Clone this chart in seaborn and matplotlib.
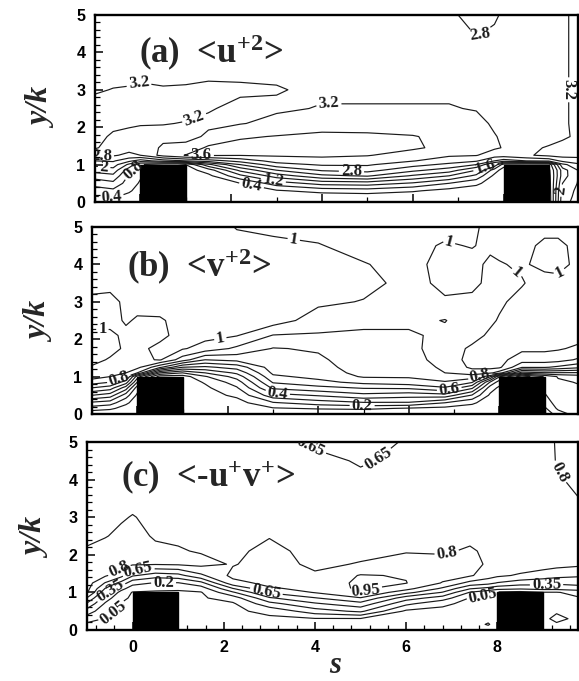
import numpy as np
import pandas as pd
import matplotlib
matplotlib.use("Agg")
import matplotlib.pyplot as plt
from matplotlib.patches import Rectangle
from matplotlib.ticker import MultipleLocator, NullFormatter
import seaborn as sns

# ---------------------------------------------------------------------------
# Grid on which the turbulence statistics are sampled
# (streamwise position s, wall-normal position y/k)
# ---------------------------------------------------------------------------
S_NODES = [-1.0, -0.6, -0.25, 0.0, 0.5, 1.0, 1.5, 2.2, 3.0, 4.0, 5.0, 6.0,
           6.8, 7.4, 7.8, 8.0, 8.5, 9.0, 9.3, 9.8]
Y_NODES = [0.0, 0.15, 0.3, 0.5, 0.7, 0.85, 1.0, 1.1, 1.25, 1.45, 1.75, 2.1,
           2.5, 3.0, 3.5, 4.0, 4.5, 5.0]

# roughness elements (square ribs of height k)
RIB_STARTS = [0.0, 8.0]
RIB_WIDTH = 1.0
RIB_HEIGHT = 1.0

# <u+2>: one list per s station, bottom to top
U2_COLUMNS = [
    [0.10, 0.40, 0.62, 0.95, 1.40, 1.75, 2.10, 2.40, 2.83, 3.25, 3.30, 3.32, 3.30, 3.17, 3.10, 3.06, 3.04, 3.02],
    [0.10, 0.45, 0.70, 1.10, 1.50, 1.85, 2.20, 2.45, 2.85, 3.00, 3.15, 3.28, 3.30, 3.21, 3.10, 3.06, 3.04, 3.02],
    [0.10, 0.30, 0.45, 0.60, 0.75, 0.95, 1.50, 2.10, 2.70, 2.95, 3.10, 3.25, 3.30, 3.22, 3.12, 3.06, 3.04, 3.02],
    [0.05, 0.15, 0.25, 0.35, 0.45, 0.60, 0.80, 1.80, 2.80, 3.00, 3.10, 3.22, 3.30, 3.25, 3.12, 3.06, 3.04, 3.02],
    [0.30, 0.30, 0.30, 0.30, 0.30, 0.30, 0.50, 2.20, 3.35, 3.25, 3.12, 3.21, 3.28, 3.22, 3.12, 3.06, 3.04, 3.02],
    [0.05, 0.08, 0.10, 0.12, 0.15, 0.20, 0.40, 2.40, 3.62, 3.30, 3.10, 3.19, 3.26, 3.23, 3.12, 3.06, 3.04, 3.02],
    [0.02, 0.05, 0.08, 0.15, 0.30, 0.60, 1.50, 2.60, 3.65, 3.68, 3.25, 3.15, 3.22, 3.26, 3.13, 3.06, 3.04, 3.02],
    [0.02, 0.05, 0.10, 0.40, 1.10, 1.70, 2.40, 2.95, 3.62, 3.75, 3.55, 3.18, 3.14, 3.24, 3.14, 3.06, 3.04, 3.02],
    [0.02, 0.10, 0.35, 1.00, 1.80, 2.40, 3.05, 3.35, 3.65, 3.80, 3.62, 3.30, 3.15, 3.22, 3.14, 3.06, 3.04, 3.02],
    [0.02, 0.15, 0.55, 1.35, 2.30, 2.85, 3.25, 3.50, 3.65, 3.80, 3.70, 3.40, 3.22, 3.14, 3.10, 3.06, 3.04, 3.02],
    [0.02, 0.20, 0.60, 1.40, 2.45, 2.95, 3.25, 3.42, 3.62, 3.75, 3.68, 3.40, 3.22, 3.14, 3.10, 3.06, 3.04, 3.02],
    [0.02, 0.15, 0.45, 1.15, 1.95, 2.50, 2.95, 3.22, 3.45, 3.65, 3.62, 3.40, 3.22, 3.14, 3.10, 3.06, 3.04, 3.02],
    [0.02, 0.10, 0.25, 0.80, 1.60, 2.20, 2.70, 3.00, 3.25, 3.50, 3.50, 3.38, 3.22, 3.14, 3.10, 3.06, 3.00, 2.85],
    [0.02, 0.05, 0.15, 0.50, 1.10, 1.60, 2.40, 2.85, 3.22, 3.38, 3.40, 3.30, 3.18, 3.12, 3.08, 3.00, 2.78, 2.70],
    [0.02, 0.05, 0.08, 0.15, 0.30, 0.60, 1.50, 2.40, 3.00, 3.25, 3.22, 3.15, 3.12, 3.10, 3.06, 3.00, 2.85, 2.75],
    [0.02, 0.03, 0.05, 0.08, 0.12, 0.20, 0.60, 2.20, 3.00, 3.18, 3.15, 3.12, 3.10, 3.08, 3.05, 3.00, 2.90, 2.85],
    [0.20, 0.20, 0.20, 0.20, 0.20, 0.20, 0.50, 2.40, 3.15, 3.15, 3.10, 3.10, 3.08, 3.06, 3.05, 3.04, 3.00, 2.95],
    [0.10, 0.12, 0.15, 0.20, 0.25, 0.30, 0.50, 2.50, 3.30, 3.22, 3.12, 3.10, 3.08, 3.08, 3.06, 3.05, 3.02, 3.00],
    [2.30, 2.25, 2.20, 2.00, 1.80, 1.80, 2.30, 2.90, 3.35, 3.30, 3.15, 3.17, 3.17, 3.17, 3.17, 3.17, 3.17, 3.17],
    [2.60, 2.60, 2.60, 2.62, 2.65, 2.70, 2.80, 3.00, 3.35, 3.38, 3.30, 3.28, 3.28, 3.28, 3.28, 3.28, 3.28, 3.28],
]

# <v+2>
V2_COLUMNS = [
    [0.02, 0.15, 0.28, 0.50, 0.70, 0.85, 0.94, 0.96, 0.99, 1.03, 1.04, 1.02, 0.97, 0.98, 1.03, 1.05, 1.05, 1.05],
    [0.02, 0.12, 0.25, 0.45, 0.65, 0.80, 0.90, 0.94, 0.97, 0.99, 1.03, 1.02, 0.97, 0.97, 1.03, 1.05, 1.05, 1.05],
    [0.02, 0.06, 0.12, 0.25, 0.45, 0.65, 0.82, 0.90, 0.95, 0.98, 0.985, 0.98, 1.01, 1.02, 1.04, 1.05, 1.05, 1.05],
    [0.02, 0.03, 0.05, 0.08, 0.15, 0.30, 0.45, 0.80, 0.93, 0.97, 0.98, 0.975, 0.99, 1.03, 1.04, 1.05, 1.05, 1.05],
    [0.05, 0.05, 0.05, 0.05, 0.05, 0.05, 0.05, 0.30, 0.72, 1.01, 1.02, 0.98, 0.99, 1.04, 1.05, 1.05, 1.05, 1.05],
    [0.04, 0.04, 0.04, 0.04, 0.04, 0.04, 0.05, 0.20, 0.50, 0.85, 1.01, 1.03, 1.03, 1.04, 1.05, 1.05, 1.05, 1.05],
    [0.02, 0.03, 0.04, 0.06, 0.08, 0.11, 0.19, 0.30, 0.48, 0.70, 0.96, 1.03, 1.03, 1.04, 1.05, 1.05, 1.05, 1.05],
    [0.01, 0.03, 0.06, 0.12, 0.19, 0.25, 0.34, 0.42, 0.54, 0.73, 0.88, 1.005, 1.03, 1.04, 1.04, 1.03, 1.03, 0.995],
    [0.01, 0.09, 0.19, 0.36, 0.52, 0.61, 0.68, 0.72, 0.75, 0.77, 0.795, 0.895, 1.05, 1.05, 1.04, 1.03, 1.02, 0.98],
    [0.01, 0.11, 0.25, 0.41, 0.57, 0.67, 0.73, 0.75, 0.77, 0.785, 0.81, 0.89, 0.95, 1.02, 1.04, 1.03, 1.005, 0.97],
    [0.01, 0.12, 0.29, 0.47, 0.61, 0.73, 0.81, 0.83, 0.84, 0.85, 0.86, 0.88, 0.93, 0.995, 1.03, 1.005, 0.97, 0.97],
    [0.01, 0.09, 0.29, 0.44, 0.62, 0.76, 0.81, 0.83, 0.84, 0.85, 0.86, 0.88, 0.93, 0.96, 0.97, 0.97, 0.97, 0.97],
    [0.01, 0.07, 0.20, 0.46, 0.69, 0.79, 0.86, 0.90, 0.92, 0.95, 0.97, 0.93, 0.895, 0.99, 1.02, 1.03, 1.01, 0.97],
    [0.01, 0.05, 0.12, 0.29, 0.52, 0.71, 0.85, 0.95, 1.02, 1.03, 1.01, 0.98, 0.97, 0.98, 1.02, 1.03, 0.995, 0.98],
    [0.01, 0.02, 0.04, 0.08, 0.15, 0.29, 0.61, 0.92, 1.03, 1.04, 1.03, 1.01, 0.99, 0.98, 0.98, 0.98, 1.02, 1.03],
    [0.01, 0.02, 0.03, 0.05, 0.08, 0.15, 0.31, 0.85, 1.02, 1.03, 1.03, 1.02, 1.005, 0.99, 0.99, 0.995, 1.02, 1.03],
    [0.03, 0.03, 0.03, 0.03, 0.03, 0.03, 0.04, 0.45, 0.81, 0.95, 1.02, 1.03, 1.03, 1.02, 0.995, 1.01, 1.03, 1.03],
    [0.02, 0.08, 0.14, 0.19, 0.22, 0.22, 0.21, 0.49, 0.81, 0.95, 1.02, 1.03, 1.03, 1.03, 1.03, 0.98, 0.98, 1.03],
    [0.15, 0.22, 0.25, 0.26, 0.27, 0.28, 0.31, 0.49, 0.78, 0.94, 1.01, 1.03, 1.03, 1.03, 1.03, 0.97, 0.98, 1.03],
    [0.26, 0.27, 0.27, 0.28, 0.29, 0.31, 0.35, 0.49, 0.72, 0.88, 0.98, 1.03, 1.03, 1.03, 1.03, 1.03, 1.03, 1.03],
]

# <-u+v+>
UV_COLUMNS = [
    [0.00, 0.02, 0.12, 0.28, 0.48, 0.64, 0.82, 0.85, 0.87, 0.88, 0.87, 0.82, 0.76, 0.73, 0.72, 0.72, 0.71, 0.70],
    [0.00, 0.02, 0.04, 0.10, 0.18, 0.28, 0.40, 0.49, 0.64, 0.82, 0.87, 0.87, 0.79, 0.75, 0.72, 0.72, 0.71, 0.70],
    [0.00, 0.01, 0.02, 0.03, 0.045, 0.08, 0.15, 0.25, 0.45, 0.70, 0.85, 0.88, 0.84, 0.78, 0.73, 0.72, 0.71, 0.70],
    [0.00, 0.00, 0.01, 0.01, 0.02, 0.03, 0.04, 0.12, 0.25, 0.52, 0.82, 0.87, 0.86, 0.81, 0.74, 0.72, 0.71, 0.70],
    [0.00, 0.00, 0.00, 0.00, 0.00, 0.00, 0.02, 0.10, 0.19, 0.42, 0.81, 0.84, 0.78, 0.75, 0.73, 0.72, 0.71, 0.70],
    [0.00, 0.00, 0.00, 0.00, 0.00, 0.01, 0.02, 0.08, 0.19, 0.45, 0.82, 0.81, 0.78, 0.74, 0.73, 0.72, 0.71, 0.70],
    [0.00, 0.00, 0.00, 0.01, 0.02, 0.03, 0.04, 0.12, 0.30, 0.62, 0.84, 0.79, 0.76, 0.74, 0.73, 0.72, 0.71, 0.70],
    [0.00, 0.00, 0.01, 0.02, 0.03, 0.12, 0.33, 0.49, 0.75, 0.84, 0.79, 0.76, 0.75, 0.74, 0.73, 0.72, 0.71, 0.70],
    [0.00, 0.00, 0.02, 0.09, 0.30, 0.48, 0.67, 0.78, 0.84, 0.86, 0.86, 0.85, 0.79, 0.75, 0.73, 0.72, 0.71, 0.70],
    [0.00, 0.00, 0.04, 0.28, 0.48, 0.64, 0.81, 0.84, 0.86, 0.82, 0.77, 0.74, 0.73, 0.72, 0.71, 0.70, 0.68, 0.63],
    [0.00, 0.00, 0.04, 0.38, 0.60, 0.79, 0.96, 0.98, 0.98, 0.96, 0.81, 0.76, 0.74, 0.72, 0.70, 0.67, 0.64, 0.60],
    [0.00, 0.00, 0.00, 0.02, 0.24, 0.42, 0.70, 0.85, 0.955, 0.94, 0.86, 0.79, 0.75, 0.72, 0.70, 0.68, 0.67, 0.66],
    [0.00, 0.00, 0.00, 0.01, 0.08, 0.28, 0.49, 0.62, 0.79, 0.85, 0.86, 0.78, 0.75, 0.73, 0.72, 0.70, 0.69, 0.68],
    [0.00, 0.00, 0.00, 0.00, 0.01, 0.04, 0.19, 0.36, 0.60, 0.82, 0.85, 0.82, 0.76, 0.73, 0.72, 0.70, 0.69, 0.68],
    [0.00, 0.06, 0.02, 0.01, 0.01, 0.02, 0.10, 0.30, 0.55, 0.72, 0.78, 0.77, 0.75, 0.73, 0.72, 0.70, 0.69, 0.68],
    [0.00, 0.00, 0.00, 0.00, 0.00, 0.00, 0.02, 0.25, 0.49, 0.68, 0.76, 0.76, 0.75, 0.73, 0.72, 0.70, 0.69, 0.68],
    [0.00, 0.00, 0.00, 0.00, 0.00, 0.00, 0.00, 0.22, 0.42, 0.63, 0.74, 0.76, 0.75, 0.73, 0.72, 0.70, 0.69, 0.68],
    [0.00, 0.02, 0.03, 0.03, 0.03, 0.03, 0.04, 0.25, 0.40, 0.58, 0.72, 0.76, 0.75, 0.73, 0.72, 0.71, 0.70, 0.69],
    [0.00, 0.04, 0.07, 0.04, 0.02, 0.02, 0.04, 0.25, 0.38, 0.55, 0.70, 0.75, 0.75, 0.73, 0.75, 0.78, 0.81, 0.82],
    [0.00, 0.02, 0.03, 0.03, 0.03, 0.04, 0.10, 0.28, 0.40, 0.52, 0.68, 0.74, 0.75, 0.76, 0.80, 0.84, 0.85, 0.85],
]

U2_LEVELS = [0.4, 0.8, 1.2, 1.6, 2.0, 2.4, 2.8, 3.2, 3.6]
V2_LEVELS = [0.1, 0.2, 0.3, 0.4, 0.5, 0.6, 0.7, 0.8, 0.9, 1.0]
UV_LEVELS = [0.05, 0.2, 0.35, 0.5, 0.65, 0.8, 0.95]

# where the inline contour labels sit (s, y/k)
U2_LABEL_SPOTS = [(0.0, 3.05), (1.2, 2.2), (4.15, 2.55), (1.34, 1.26), (2.45, 0.45),
                  (2.93, 0.59), (4.65, 0.8), (7.6, 0.94), (-0.86, 1.26), (-0.8, 0.91),
                  (-0.12, 0.8), (-0.64, 0.14), (7.45, 4.6), (9.45, 3.0), (9.3, 0.3)]
V2_LABEL_SPOTS = [(-0.77, 2.3), (1.83, 2.06), (3.45, 4.6), (6.85, 4.4), (8.3, 3.66),
                  (9.35, 3.75), (-0.4, 0.92), (3.1, 0.56), (4.97, 0.24), (6.9, 0.62),
                  (7.58, 0.99)]
UV_LABEL_SPOTS = [(-0.33, 1.68), (0.12, 1.58), (-0.46, 0.98), (-0.4, 0.4), (0.68, 1.28),
                  (2.93, 1.0), (5.09, 1.12), (6.9, 2.0), (9.08, 1.2), (7.7, 0.75),
                  (3.9, 4.85), (5.35, 4.6), (9.5, 4.3)]

PANELS = [
    # key, title, columns, levels, label spots, axes rect (fig fraction), right s limit, title anchor
    ("a", r"(a)  <u$^{+2}$>", U2_COLUMNS, U2_LEVELS, U2_LABEL_SPOTS,
     [95 / 579, 1 - 202 / 681, 482.5 / 579, 187 / 681], 9.63, (-0.02, 3.98)),
    ("b", r"(b)  <v$^{+2}$>", V2_COLUMNS, V2_LEVELS, V2_LABEL_SPOTS,
     [92 / 579, 1 - 414 / 681, 486 / 579, 187 / 681], 9.74, (-0.22, 3.93)),
    ("c", r"(c)  <-u$^{+}$v$^{+}$>", UV_COLUMNS, UV_LEVELS, UV_LABEL_SPOTS,
     [87 / 579, 1 - 630 / 681, 491 / 579, 188 / 681], 9.77, (-0.26, 4.07)),
]
YLABEL_CENTERS = [(42.5, 108), (41, 322), (37, 538)]

sns.set_theme(style="white")
plt.rcParams["font.family"] = ["Liberation Sans", "DejaVu Sans"]
plt.rcParams["mathtext.fontset"] = "custom"
plt.rcParams["mathtext.rm"] = "Liberation Serif:bold"
plt.rcParams["mathtext.it"] = "Liberation Serif:bold"
plt.rcParams["mathtext.bf"] = "Liberation Serif:bold"
plt.rcParams["mathtext.default"] = "rm"

SERIF = "Liberation Serif"

fig = plt.figure(figsize=(5.79, 6.81), dpi=100)


def label_text(v):
    return f"{v:g}"


for idx, (key, title, cols, levels, spots, rect, smax, tpos) in enumerate(PANELS):
    ax = fig.add_axes(rect)
    field = pd.DataFrame(np.array(cols).T, index=Y_NODES, columns=S_NODES)
    cs = ax.contour(field.columns.values, field.index.values, field.values,
                    levels=levels, colors="k", linewidths=0.85)
    with plt.rc_context({"font.family": SERIF, "font.weight": "bold"}):
        texts = ax.clabel(cs, levels=levels, fmt=label_text, fontsize=12,
                          inline=True, inline_spacing=2, manual=spots)
    for t in texts:
        t.set_zorder(5)

    for s0 in RIB_STARTS:
        ax.add_patch(Rectangle((s0, 0.0), RIB_WIDTH, RIB_HEIGHT,
                               facecolor="black", edgecolor="black", zorder=4))

    ax.set_xlim(-1.0, smax)
    ax.set_ylim(0.0, 5.0)

    ax.yaxis.set_major_locator(MultipleLocator(1))
    ax.yaxis.set_minor_locator(MultipleLocator(0.2))
    ax.xaxis.set_major_locator(MultipleLocator(2))
    if key == "c":
        ax.xaxis.set_minor_locator(MultipleLocator(0.4))
    else:
        ax.xaxis.set_minor_locator(MultipleLocator(1))
        ax.xaxis.set_major_formatter(NullFormatter())

    ax.tick_params(which="both", direction="in", top=False, right=False,
                   left=True, bottom=True, colors="black")
    ax.tick_params(which="major", length=6, width=1.1, labelsize=11.5, pad=7)
    ax.tick_params(which="minor", length=3.5, width=0.9)
    for lab in ax.get_xticklabels() + ax.get_yticklabels():
        lab.set_fontweight("bold")
        lab.set_fontfamily("Liberation Sans")

    for sp in ax.spines.values():
        sp.set_linewidth(1.7)
        sp.set_color("black")

    ax.text(tpos[0], tpos[1], title, fontsize=25, fontweight="bold",
            family=SERIF, ha="left", va="center", zorder=6)

    cx, cy = YLABEL_CENTERS[idx]
    fig.text(cx / 579, 1 - cy / 681, "y/k", rotation=90, ha="center", va="center",
             fontsize=23, fontweight="bold", fontstyle="italic", family=SERIF)

fig.text(335 / 579, 1 - 673 / 681, "s", ha="center", va="baseline",
         fontsize=22, fontweight="bold", fontstyle="italic", family=SERIF)

fig.savefig("out.png", dpi=100, facecolor="white")
